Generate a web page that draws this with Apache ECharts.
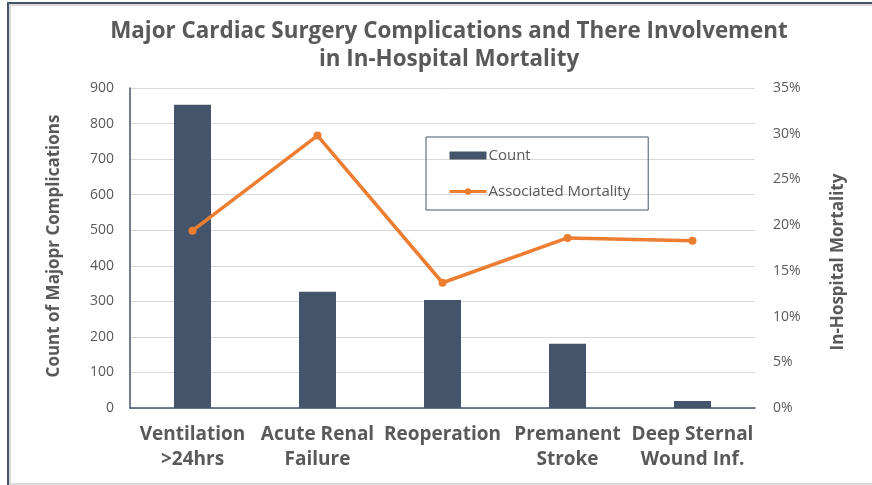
<!DOCTYPE html>
<html>
<head>
<meta charset="utf-8">
<script src="https://cdn.jsdelivr.net/npm/echarts@6/dist/echarts.min.js"></script>
<style>
  html, body { margin: 0; padding: 0; background: #ffffff; }
  #chart { width: 872px; height: 485px; }
</style>
</head>
<body>
<div id="chart"></div>
<script>
const categories = ["Ventilation\n>24hrs", "Acute Renal\nFailure", "Reoperation", "Premanent\nStroke", "Deep Sternal\nWound Inf."];
const countValues = [853, 327, 304, 181, 20];
const mortalityValues = [19.4, 29.8, 13.7, 18.6, 18.3];
const leftTicks = { min: 0, max: 900, interval: 100 };
const rightTicks = { min: 0, max: 35, interval: 5 };

const FONT = "Open Sans";
const GRAY = "#595959";

const chart = echarts.init(document.getElementById("chart"), null, { renderer: "canvas" });
chart.setOption({
  backgroundColor: "#ffffff",
  animation: false,
  textStyle: { fontFamily: FONT, color: GRAY },
  title: {
    text: "Major Cardiac Surgery Complications and There Involvement\nin In-Hospital Mortality",
    left: 444,
    textAlign: "center",
    top: 13,
    textStyle: { fontFamily: FONT, fontWeight: "bold", fontSize: 22.4, color: GRAY, lineHeight: 28 }
  },
  legend: {
    orient: "vertical",
    left: 426,
    top: 137,
    padding: [11, 18, 11, 22],
    itemGap: 21,
    itemWidth: 37,
    itemHeight: 8,
    borderColor: "#44546A",
    borderWidth: 1,
    lineStyle: { width: 3 },
    textStyle: { fontFamily: FONT, fontSize: 15, color: GRAY, padding: [0, 0, 0, -3] },
    data: [
      { name: "Count", icon: "rect" },
      { name: "Associated Mortality" }
    ]
  },
  grid: { left: 130, right: 117, top: 88, bottom: 77 },
  xAxis: {
    type: "category",
    data: categories,
    axisLine: { lineStyle: { color: "#44546A", width: 1.5 } },
    axisTick: { show: false },
    axisLabel: { fontFamily: FONT, fontWeight: "bold", fontSize: 19, color: GRAY, lineHeight: 25, margin: 14, interval: 0 }
  },
  yAxis: [
    {
      type: "value",
      min: leftTicks.min, max: leftTicks.max, interval: leftTicks.interval,
      axisLine: { show: true, lineStyle: { color: "#44546A", width: 1.5 } },
      axisTick: { show: false },
      splitLine: { lineStyle: { color: "#D9D9D9", width: 1 } },
      axisLabel: { fontFamily: FONT, fontSize: 14, color: GRAY, margin: 16 }
    },
    {
      type: "value",
      min: rightTicks.min, max: rightTicks.max, interval: rightTicks.interval,
      axisLine: { show: false },
      axisTick: { show: false },
      splitLine: { show: false },
      axisLabel: { fontFamily: FONT, fontSize: 14, color: GRAY, margin: 18, formatter: "{value}%" }
    }
  ],
  series: [
    {
      name: "Count",
      type: "bar",
      yAxisIndex: 0,
      data: countValues,
      barWidth: 37,
      itemStyle: { color: "#44546A" }
    },
    {
      name: "Associated Mortality",
      type: "line",
      yAxisIndex: 1,
      data: mortalityValues,
      symbol: "circle",
      symbolSize: 8,
      lineStyle: { color: "#ED7D31", width: 3.5 },
      itemStyle: { color: "#ED7D31" }
    }
  ],
  graphic: [
    { type: "rect", shape: { x: 7, y: 2, width: 865, height: 2 }, style: { fill: "#44546A" } },
    { type: "rect", shape: { x: 9, y: 4, width: 863, height: 2 }, style: { fill: "#D9D9D9" } },
    { type: "rect", shape: { x: 7, y: 2, width: 2, height: 483 }, style: { fill: "#44546A" } },
    { type: "rect", shape: { x: 9, y: 4, width: 2, height: 481 }, style: { fill: "#D9D9D9" } },
    { type: "rect", shape: { x: 9, y: 483, width: 863, height: 2 }, style: { fill: "#D9D9D9" } },
    {
      type: "text", x: 54, y: 246, rotation: Math.PI / 2,
      style: { text: "Count of Majopr Complications", fontFamily: FONT, fontWeight: "bold", fontSize: 17, fill: GRAY, align: "center", verticalAlign: "middle" }
    },
    {
      type: "text", x: 838, y: 262, rotation: Math.PI / 2,
      style: { text: "In-Hospital Mortality", fontFamily: FONT, fontWeight: "bold", fontSize: 17, fill: GRAY, align: "center", verticalAlign: "middle" }
    }
  ]
});
</script>
</body>
</html>
